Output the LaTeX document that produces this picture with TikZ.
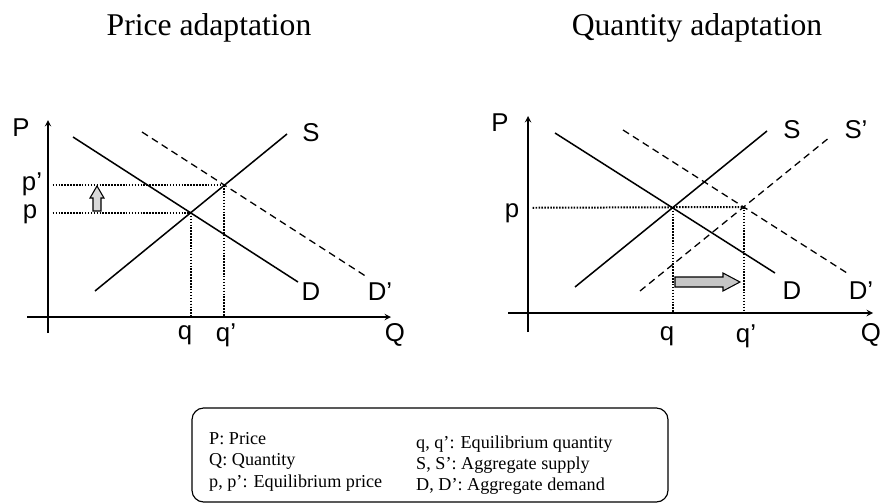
\documentclass[tikz,border=0pt]{standalone}
\usepackage{fontspec}
\setmainfont{Liberation Serif}
\setsansfont{Liberation Sans}

\tikzset{
  axis/.style={line width=1.4pt,->},
  curve/.style={line width=1.3pt},
  shifted/.style={line width=1.1pt,dash pattern=on 6pt off 4pt},
  guide/.style={line width=1.7pt,dash pattern=on 1.3pt off 1.2pt},
  lab/.style={inner sep=0pt,font=\sffamily\fontsize{22}{24}\selectfont},
  title/.style={inner sep=0pt,font=\fontsize{27}{32}\selectfont},
  legend/.style={inner sep=0pt,anchor=base west,font=\fontsize{15.5}{18}\selectfont},
  blockarrow/.style={line width=0.9pt,fill=gray!45}
}

\begin{document}
\begin{tikzpicture}[x=0.03cm,y=-0.03cm,>=stealth]
\useasboundingbox (0,0) rectangle (884,503);

\node[title] (tprice) at (209,28) {Price adaptation};
\node[title] (tquant) at (697,28) {Quantity adaptation};

% left: price adaptation
\coordinate (ol) at (48,317);
\coordinate (ybl) at (48,333);
\coordinate (ytl) at (48,120);
\coordinate (xbl) at (27,317);
\coordinate (xtl) at (391,317);
\coordinate (Dl1) at (73,137);
\coordinate (Dl2) at (298,282);
\coordinate (Sl1) at (95,291);
\coordinate (Sl2) at (287,134);
\coordinate (Dpl1) at (142,132);
\coordinate (Dpl2) at (367,277);
\coordinate (El) at (intersection of Dl1--Dl2 and Sl1--Sl2);
\coordinate (Epl) at (intersection of Dpl1--Dpl2 and Sl1--Sl2);

\draw[axis] (ybl) -- (ytl);
\draw[axis] (xbl) -- (xtl);
\draw[guide,shorten <=4pt] (El -| ol) -- (El);
\draw[guide,shorten <=4pt] (Epl -| ol) -- (Epl);
\draw[guide] (El) -- (El |- ol);
\draw[guide] (Epl) -- (Epl |- ol);
\draw[curve] (Dl1) -- (Dl2);
\draw[curve] (Sl1) -- (Sl2);
\draw[shifted] (Dpl1) -- (Dpl2);
\draw[blockarrow,fill=gray!30] (93,211) -- (93,198) -- (90,198) -- (97,186)
  -- (104,198) -- (101,198) -- (101,211) -- cycle;

\node[lab] (Pl) at (21,128) {P};
\node[lab] (ppl) at (32,184) {p’};
\node[lab] (pl) at (30,214) {p};
\node[lab] (Sl) at (311,133) {S};
\node[lab] (Dl) at (311,292) {D};
\node[lab] (Dpl) at (380,292) {D’};
\node[lab] (ql) at (185,335) {q};
\node[lab] (qpl) at (226,335) {q’};
\node[lab] (Ql) at (395,335) {Q};

% right: quantity adaptation
\coordinate (or) at (528,313);
\coordinate (ybr) at (528,332);
\coordinate (ytr) at (528,116);
\coordinate (xbr) at (508,313);
\coordinate (xtr) at (873,313);
\coordinate (Dr1) at (555,133);
\coordinate (Dr2) at (775,273);
\coordinate (Sr1) at (575,287);
\coordinate (Sr2) at (767,131);
\coordinate (Dpr1) at (623,130);
\coordinate (Dpr2) at (847,273);
\coordinate (Spr1) at (640,291);
\coordinate (Spr2) at (830,137);
\coordinate (Er) at (intersection of Dr1--Dr2 and Sr1--Sr2);
\coordinate (Epr) at (intersection of Dpr1--Dpr2 and Spr1--Spr2);

\draw[axis] (ybr) -- (ytr);
\draw[axis] (xbr) -- (xtr);
\draw[guide,shorten <=4pt] (Er -| or) -- (Epr);
\draw[guide] (Er) -- (Er |- or);
\draw[guide] (Epr) -- (Epr |- or);
\draw[curve] (Dr1) -- (Dr2);
\draw[curve] (Sr1) -- (Sr2);
\draw[shifted] (Dpr1) -- (Dpr2);
\draw[shifted] (Spr1) -- (Spr2);
\draw[blockarrow] (675,277) -- (723,277) -- (723,273) -- (740,282) -- (723,291)
  -- (723,287) -- (675,287) -- cycle;

\node[lab] (Pr) at (500,123) {P};
\node[lab] (pr) at (512,213) {p};
\node[lab] (Sr) at (792,130) {S};
\node[lab] (Spr) at (856,130) {S’};
\node[lab] (Dr) at (792,291) {D};
\node[lab] (Dpr) at (861,291) {D’};
\node[lab] (qr) at (667,336) {q};
\node[lab] (qpr) at (746,336) {q’};
\node[lab] (Qr) at (871,335) {Q};

% legend
\draw[line width=1pt,rounded corners=10pt] (192,408) rectangle (668,502);
\node[legend] (lgP) at (209,444) {P: Price};
\node[legend] (lgQ) at (209,465) {Q: Quantity};
\node[legend] (lgp) at (209,487) {p, p’: Equilibrium price};
\node[legend] (lgq) at (416,448) {q, q’: Equilibrium quantity};
\node[legend] (lgS) at (416,469) {S, S’: Aggregate supply};
\node[legend] (lgD) at (416,490) {D, D’: Aggregate demand};
\end{tikzpicture}
\end{document}
